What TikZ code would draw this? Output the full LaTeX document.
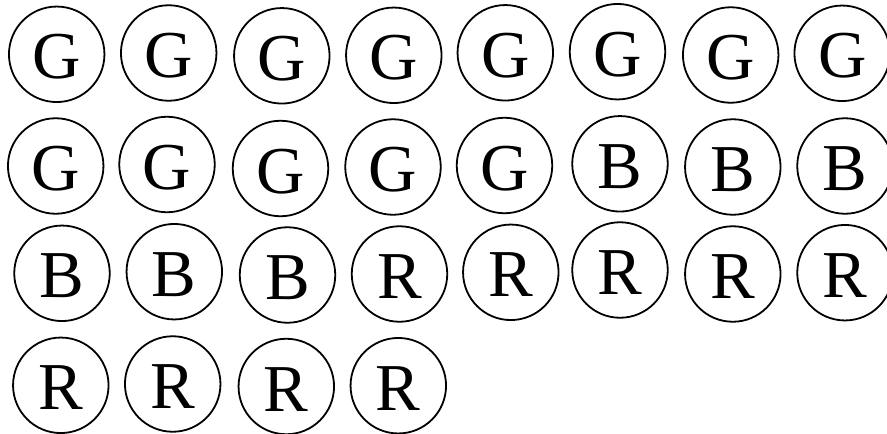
\documentclass[tikz,border=0pt]{standalone}
\usepackage{fontspec}
\setmainfont{Liberation Serif}
\begin{document}
\begin{tikzpicture}[x=1pt,y=-1pt,
  ball/.style={draw, circle, line width=1.8pt, minimum size=95.5pt, inner sep=0pt,
    text height=49pt, text depth=0pt, font=\fontsize{67}{67}\selectfont}]
\useasboundingbox (0,0) rectangle (887,434);
\clip (0,0) rectangle (887,434);
% row 1
\node[ball] (a1) at (56.7,54.3) {G};
\node[ball] (a2) at (168.7,53) {G};
\node[ball] (a3) at (281.8,55.8) {G};
\node[ball] (a4) at (393.8,55.3) {G};
\node[ball] (a5) at (505.3,52.8) {G};
\node[ball] (a6) at (617.5,51.7) {G};
\node[ball] (a7) at (730.7,55) {G};
\node[ball] (a8) at (842.2,53.3) {G};
% row 2
\node[ball] (b1) at (55.7,166) {G};
\node[ball] (b2) at (167,164.5) {G};
\node[ball] (b3) at (280.5,168.5) {G};
\node[ball] (b4) at (393,167) {G};
\node[ball] (b5) at (504.5,165.5) {G};
\node[ball] (b6) at (620,163.8) {B};
\node[ball] (b7) at (732.8,167) {B};
\node[ball] (b8) at (845,166) {B};
% row 3
\node[ball] (c1) at (62,273.3) {B};
\node[ball] (c2) at (174.3,271.7) {B};
\node[ball] (c3) at (287.5,275) {B};
\node[ball] (c4) at (399.5,274) {R};
\node[ball] (c5) at (510.8,272.3) {R};
\node[ball] (c6) at (620,270) {R};
\node[ball] (c7) at (732.8,274) {R};
\node[ball] (c8) at (845,272.7) {R};
% row 4
\node[ball] (d1) at (60.8,385.3) {R};
\node[ball] (d2) at (172.7,384) {R};
\node[ball] (d3) at (286.3,386.5) {R};
\node[ball] (d4) at (398.3,385.7) {R};
\end{tikzpicture}
\end{document}
